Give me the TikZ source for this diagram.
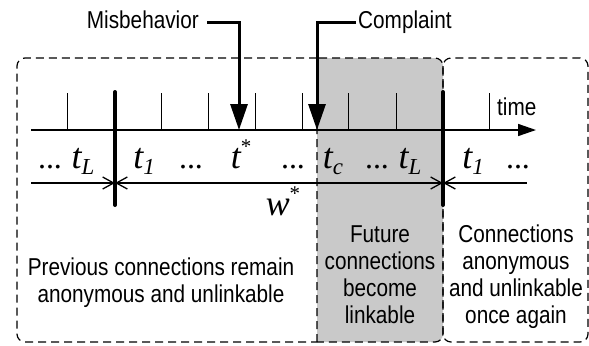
\documentclass[tikz,border=0pt]{standalone}
\usepackage{fontspec}
\setmainfont{Liberation Sans}[FakeStretch=0.85]
\newfontfamily\varfont{Liberation Serif}
\usetikzlibrary{arrows.meta}

% subscript and superscript pieces for the time-slot labels
\newcommand\slotsub[1]{\raisebox{-6bp}{\fontsize{23}{23}\selectfont #1}}
\newcommand\slotstar{\raisebox{15bp}{\fontsize{21}{21}\selectfont\upshape *}}

\definecolor{linkgray}{gray}{0.79}

\tikzset{
  txt/.style={font=\fontsize{24.5}{27}\selectfont, align=center, inner sep=0pt},
  var/.style={font=\varfont\itshape\fontsize{36}{36}\selectfont, inner sep=0pt, anchor=base},
  dots/.style={font=\varfont\fontsize{32}{32}\selectfont, inner sep=0pt, anchor=base},
  frame/.style={dash pattern=on 8bp off 5bp, line width=1.2bp},
  tickmark/.style={line width=1bp},
  boundary/.style={line width=4bp, line cap=round},
  event/.style={line width=3bp, -{Triangle[length=26bp,width=17bp]}},
  span/.style={line width=1.3bp},
  barb/.tip={Straight Barb[length=11bp,width=12bp,line width=1.3bp]},
}

\begin{document}
\begin{tikzpicture}[x=1bp,y=-1bp]
\useasboundingbox (0,0) rectangle (589,345);

% shaded period after the complaint
\fill[linkgray] (317,342) -- (317,58) [rounded corners=8bp] -- (443,58) -- (443,342) [sharp corners] -- cycle;

% dashed frames of the three periods
\draw[frame] (317,58) [rounded corners=8bp] -- (17,58) -- (17,342) [sharp corners] -- (317,342);
\draw[frame] (317,342) -- (317,58) [rounded corners=8bp] -- (443,58) -- (443,342) [sharp corners] -- cycle;
\draw[frame, rounded corners=8bp] (443,58) rectangle (588,342);

% time axis
\coordinate (axisL) at (31,130);
\coordinate (axisR) at (536,130);
\draw[line width=1.5bp, -{Triangle[length=18bp,width=12bp]}] (axisL) -- (axisR);
\node[txt, anchor=base west] (time) at (497,115) {time};
\foreach \x in {67,161,208,255,302,348,396,489}
  \draw[tickmark] (\x,93) -- (\x,130);

% window boundaries
\coordinate (b1top) at (115,92);  \coordinate (b1bot) at (115,205);
\coordinate (b2top) at (443,92);  \coordinate (b2bot) at (443,205);
\draw[boundary] (b1top) -- (b1bot);
\draw[boundary] (b2top) -- (b2bot);

% events
\coordinate (tstar) at (239,130);
\coordinate (tc) at (317,130);
\node[txt, anchor=base east] (mis) at (199,28) {Misbehavior};
\node[txt, anchor=base west] (cmp) at (358,28) {Complaint};
\draw[event] ([shift={(8,-6)}]mis.base east) -| (tstar);
\draw[event] ([shift={(-2,-6)}]cmp.base west) -| (tc);

% slot labels
\node[dots] at (50,168) {...};
\node[var] at (83,168) {t\slotsub{L}};
\node[var] at (144,168) {t\slotsub{1}};
\node[dots] at (191,168) {...};
\node[var] at (241,168) {t\slotstar};
\node[dots] at (293,168) {...};
\node[var] at (333,168) {t\slotsub{c}};
\node[dots] at (377,168) {...};
\node[var] at (410,168) {t\slotsub{L}};
\node[var] at (473,168) {t\slotsub{1}};
\node[dots] at (518,168) {...};

% window spans
\coordinate (s0) at (31,183);
\coordinate (s1) at (115,183);
\coordinate (s2) at (443,183);
\coordinate (s3) at (527,183);
\draw[span, -barb] (s0) -- (s1);
\draw[span, barb-barb] (s1) -- (s2);
\draw[span, barb-] (s2) -- (s3);
\node[var] (w) at (283,215) {w\slotstar};

% period descriptions (base anchor sits on the last line)
\node[txt, anchor=base] at (161,302) {Previous connections remain\\anonymous and unlinkable};
\node[txt, anchor=base] at (380,323) {Future\\connections\\become\\linkable};
\node[txt, anchor=base] at (516,323) {Connections\\anonymous\\and unlinkable\\once again};
\end{tikzpicture}
\end{document}
